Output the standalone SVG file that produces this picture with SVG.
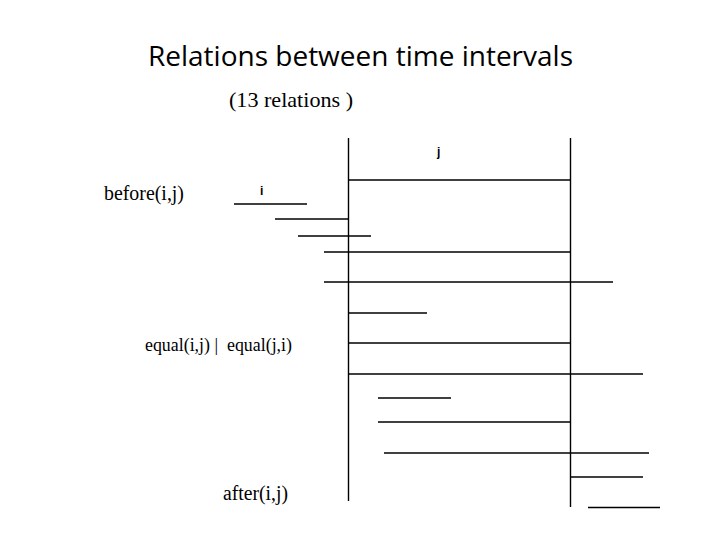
<svg xmlns="http://www.w3.org/2000/svg" width="720" height="540" viewBox="0 0 720 540">
<style>
.ln{stroke:#000;stroke-width:1.4;fill:none}
.serif{font-family:"Liberation Serif","Times New Roman",serif;fill:#000}
.sans{font-family:"Open Sans","Liberation Sans",sans-serif;fill:#000}
.lbl{font-family:"Liberation Sans",Arial,sans-serif;font-weight:bold;font-size:12px;fill:#000}
</style>
<rect width="720" height="540" fill="#fff"/>
<g id="title">
<text class="sans" x="148" y="66" font-size="27" textLength="425" lengthAdjust="spacingAndGlyphs">Relations between time intervals</text>
<text class="serif" x="229" y="107" font-size="21" textLength="124" lengthAdjust="spacingAndGlyphs">(13 relations )</text>
</g>
<g id="labels">
<text class="serif" x="104" y="200" font-size="20" textLength="80" lengthAdjust="spacingAndGlyphs">before(i,j)</text>
<text class="serif" x="145" y="351" font-size="18" textLength="147" lengthAdjust="spacingAndGlyphs" xml:space="preserve" style="white-space:pre">equal(i,j) |  equal(j,i)</text>
<text class="serif" x="223" y="500" font-size="20" textLength="65" lengthAdjust="spacingAndGlyphs">after(i,j)</text>
<text class="lbl" x="260" y="195">i</text>
<text class="lbl" x="437" y="156">j</text>
</g>
<g id="connectors">
<line class="ln" x1="348.5" y1="138" x2="348.5" y2="501"/>
<line class="ln" x1="570.5" y1="138" x2="570.5" y2="507"/>
</g>
<g id="intervals">
<line id="j" class="ln" x1="348" y1="180" x2="570" y2="180"/>
<line id="i-before" class="ln" x1="234" y1="204" x2="307" y2="204"/>
<line id="i-meets" class="ln" x1="275" y1="219" x2="348" y2="219"/>
<line id="i-overlaps" class="ln" x1="298" y1="236" x2="371" y2="236"/>
<line id="i-finished" class="ln" x1="324" y1="252" x2="570" y2="252"/>
<line id="i-contains" class="ln" x1="324" y1="282" x2="613" y2="282"/>
<line id="i-starts" class="ln" x1="348" y1="313" x2="427" y2="313"/>
<line id="i-equal" class="ln" x1="348" y1="343" x2="570" y2="343"/>
<line id="i-startedby" class="ln" x1="348" y1="374" x2="643" y2="374"/>
<line id="i-during" class="ln" x1="378" y1="398" x2="451" y2="398"/>
<line id="i-finishes" class="ln" x1="378" y1="422" x2="570" y2="422"/>
<line id="i-overlappedby" class="ln" x1="384" y1="453" x2="649" y2="453"/>
<line id="i-metby" class="ln" x1="570" y1="477" x2="643" y2="477"/>
<line id="i-after" class="ln" x1="588" y1="507.5" x2="660" y2="507.5"/>
</g>
</svg>
